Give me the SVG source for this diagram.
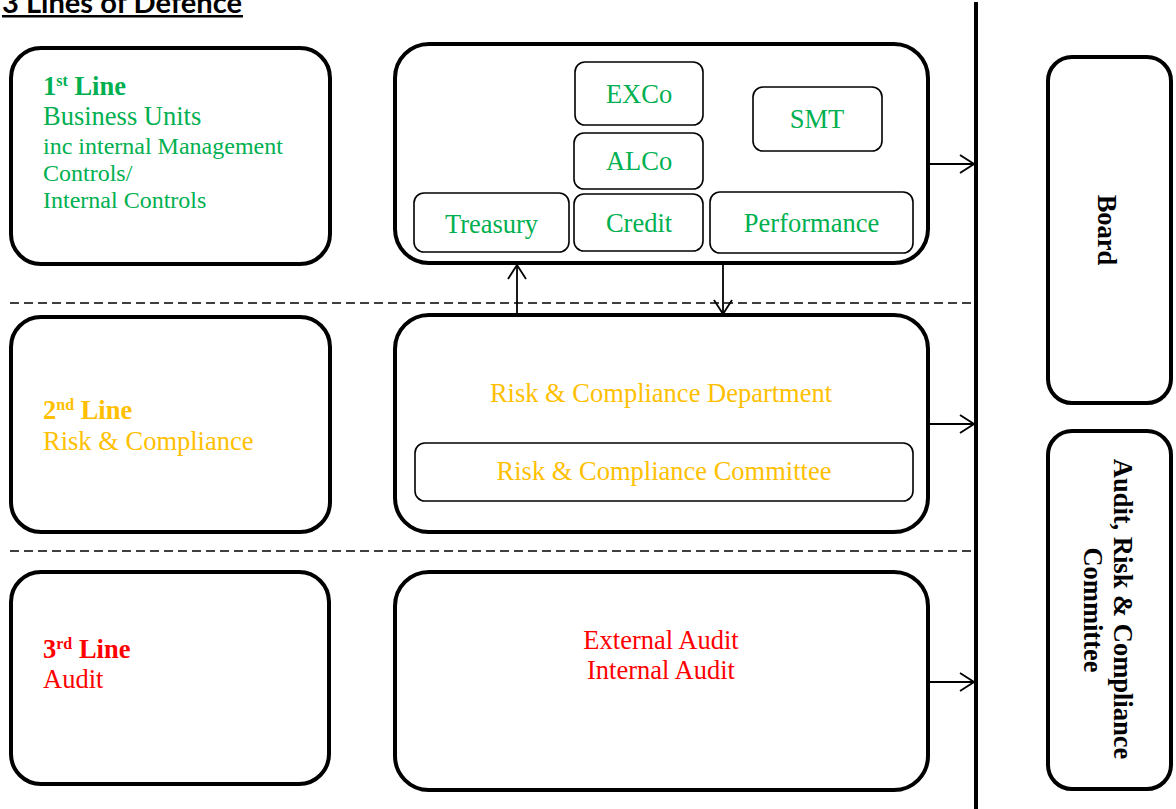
<svg xmlns="http://www.w3.org/2000/svg" width="1176" height="809" viewBox="0 0 1176 809">
<style>
.big{fill:#fff;stroke:#000;stroke-width:4}
.small{fill:#fff;stroke:#000;stroke-width:1.6}
.t{font-family:"Liberation Serif","Times New Roman",serif;font-size:26.5px}
.s{font-size:24px}
.b{font-weight:bold}
.g{fill:#00B050}
.y{fill:#FFC000}
.r{fill:#FF0000}
.k{fill:#000}
.mid{text-anchor:middle}
.conn{stroke:#000;stroke-width:1.8;fill:none}
.dash{stroke:#000;stroke-width:1.6;stroke-dasharray:9 5;fill:none}
</style>
<defs>
<marker id="arr" viewBox="0 0 16 20" refX="15" refY="10" markerWidth="16" markerHeight="20" markerUnits="userSpaceOnUse" orient="auto">
<path d="M1,1 L15,10 L1,19" fill="none" stroke="#000" stroke-width="1.8"/>
</marker>
</defs>
<rect width="1176" height="809" fill="#fff"/>

<g id="title">
<text x="2" y="13" font-family="Lato,'Liberation Sans',sans-serif" font-weight="bold" font-size="28" textLength="240" lengthAdjust="spacingAndGlyphs" fill="#000">3 Lines of Defence</text>
<rect x="2" y="15" width="241" height="2.5" fill="#000"/>
</g>

<g id="connectors">
<line class="dash" x1="10" y1="303" x2="974" y2="303"/>
<line class="dash" x1="10" y1="551" x2="972" y2="551"/>
<line x1="976" y1="2" x2="976" y2="809" stroke="#000" stroke-width="4"/>
<line class="conn" x1="929" y1="164" x2="974" y2="164" marker-end="url(#arr)"/>
<line class="conn" x1="929" y1="424" x2="974" y2="424" marker-end="url(#arr)"/>
<line class="conn" x1="929" y1="682" x2="974" y2="682" marker-end="url(#arr)"/>
<line class="conn" x1="517" y1="313" x2="517" y2="265" marker-end="url(#arr)"/>
<line class="conn" x1="723" y1="265" x2="723" y2="314" marker-end="url(#arr)"/>
</g>

<g id="line1">
<rect class="big" x="11" y="48" width="319" height="216" rx="30"/>
<text class="t b g" x="43" y="95">1<tspan font-size="16" dy="-9">st</tspan><tspan dy="9"> Line</tspan></text>
<text class="t g" x="43" y="125">Business Units</text>
<text class="t s g" x="43" y="154">inc internal Management</text>
<text class="t s g" x="43" y="181">Controls/</text>
<text class="t s g" x="43" y="208">Internal Controls</text>
</g>

<g id="line2">
<rect class="big" x="11" y="317" width="319" height="215" rx="30"/>
<text class="t b y" x="43" y="419">2<tspan font-size="16" dy="-9">nd</tspan><tspan dy="9"> Line</tspan></text>
<text class="t y" x="43" y="450">Risk &amp; Compliance</text>
</g>

<g id="line3">
<rect class="big" x="11" y="572" width="318" height="212" rx="30"/>
<text class="t b r" x="43" y="658">3<tspan font-size="16" dy="-9">rd</tspan><tspan dy="9"> Line</tspan></text>
<text class="t r" x="43" y="688">Audit</text>
</g>

<g id="management">
<rect class="big" x="395" y="44" width="533" height="219" rx="34"/>
</g>
<g id="exco">
<rect class="small" x="575" y="62" width="128" height="63" rx="10"/>
<text class="t g mid" x="639" y="103">EXCo</text>
</g>
<g id="smt">
<rect class="small" x="753" y="87" width="129" height="64" rx="10"/>
<text class="t g mid" x="817" y="128">SMT</text>
</g>
<g id="alco">
<rect class="small" x="574" y="133" width="129" height="56" rx="10"/>
<text class="t g mid" x="639" y="170">ALCo</text>
</g>
<g id="treasury">
<rect class="small" x="414" y="193" width="155" height="59" rx="10"/>
<text class="t g mid" x="491.5" y="233">Treasury</text>
</g>
<g id="credit">
<rect class="small" x="574" y="194" width="129" height="57" rx="10"/>
<text class="t g mid" x="639" y="232">Credit</text>
</g>
<g id="performance">
<rect class="small" x="710" y="192" width="203" height="61" rx="10"/>
<text class="t g mid" x="811.5" y="232">Performance</text>
</g>

<g id="riskdept">
<rect class="big" x="395" y="315" width="533" height="217" rx="34"/>
<text class="t y mid" x="661" y="402">Risk &amp; Compliance Department</text>
</g>
<g id="riskcommittee">
<rect class="small" x="415" y="443" width="498" height="58" rx="10"/>
<text class="t y mid" x="664" y="480">Risk &amp; Compliance Committee</text>
</g>

<g id="audit">
<rect class="big" x="395" y="572" width="533" height="218" rx="34"/>
<text class="t r mid" x="661" y="649">External Audit</text>
<text class="t r mid" x="661" y="679">Internal Audit</text>
</g>

<g id="board">
<rect class="big" x="1048" y="57" width="123" height="346" rx="24"/>
<text class="t b k mid" transform="translate(1098,230) rotate(90)">Board</text>
</g>

<g id="arc">
<rect class="big" x="1048" y="431" width="123" height="358" rx="24"/>
<text class="t b k mid" transform="translate(1114,609) rotate(90)">Audit, Risk &amp; Compliance</text>
<text class="t b k mid" transform="translate(1084,610) rotate(90)">Committee</text>
</g>
</svg>
